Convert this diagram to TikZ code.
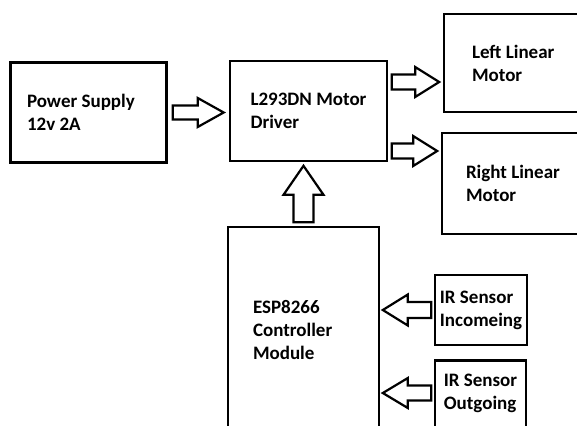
\documentclass[tikz,border=0pt]{standalone}
\usepackage{fontspec}
\setmainfont{Carlito}
\usetikzlibrary{calc}

\begin{document}
\begin{tikzpicture}[
  x=1pt,y=-1pt,
  every node/.style={font=\fontsize{19}{23}\selectfont\bfseries},
  block/.style={draw=black,line width=2.6pt,align=flush left,inner sep=0pt},
  fatarrow/.style n args={4}{draw=black,line width=2.2pt,fill=white,line join=miter,
    to path={coordinate (fa-s) at ($(\tikztostart)!#1!(\tikztotarget)$)
      coordinate (fa-t) at ($(\tikztotarget)!#1!(\tikztostart)$)
      coordinate (fa-h) at ($(fa-t)!#4!(fa-s)$)
      ($(fa-s)!#2!90:(fa-t)$) -- ($(fa-h)!#2!-90:(fa-s)$) -- ($(fa-h)!#3!-90:(fa-s)$)
      -- (fa-t) -- ($(fa-h)!#3!90:(fa-s)$) -- ($(fa-h)!#2!90:(fa-s)$)
      -- ($(fa-s)!#2!-90:(fa-t)$) -- cycle}}
]
\useasboundingbox (0,0) rectangle (577,425);
\clip (0,0) rectangle (577,425);
% blocks
\node[block,minimum width=156pt,minimum height=100pt,text width=123pt] (ps) at (88.5,112.5) {Power Supply\\12v 2A};
\node[block,minimum width=157pt,minimum height=100pt] (drv) at (308.5,111) {L293DN Motor\\Driver};
\node[block,minimum width=156pt,minimum height=98pt,text width=100pt] (lm) at (522,63) {Left Linear\\Motor};
\node[block,minimum width=158pt,minimum height=101pt,text width=110pt] (rm) at (521,183.5) {Right Linear\\Motor};
\node[block,minimum width=151pt,minimum height=206pt,text width=101pt] (esp) at (303.5,330) {ESP8266\\Controller\\Module};
\node[block,minimum width=92pt,minimum height=70pt] (irin) at (481,310) {IR Sensor\\Incomeing};
\node[block,anchor=north,minimum width=91pt,inner ysep=13.5pt,text depth=40pt] (irout) at (480.5,359) {IR Sensor\\Outgoing};
% arrows
\draw[fatarrow={5pt}{7pt}{14.5pt}{26pt}] (ps.east) to (ps.east -| drv.west);
\draw[fatarrow={3.5pt}{7.5pt}{15pt}{24pt}] ([yshift=29pt]drv.east) to ([yshift=29pt]drv.east -| lm.west);
\draw[fatarrow={3.5pt}{7.5pt}{15pt}{24pt}] ([yshift=-40pt]drv.east) to ([yshift=-40pt]drv.east -| rm.west);
\draw[fatarrow={3.5pt}{10pt}{20pt}{29pt}] (esp.north) to (esp.north |- drv.south);
\draw[fatarrow={2.5pt}{8pt}{15.5pt}{25pt}] (irin.west) to (irin.west -| esp.east);
\draw[fatarrow={2.5pt}{7.5pt}{15pt}{25pt}] ([yshift=-34pt]irout.north west) to ([yshift=-34pt]irout.north west -| esp.east);
\end{tikzpicture}
\end{document}
